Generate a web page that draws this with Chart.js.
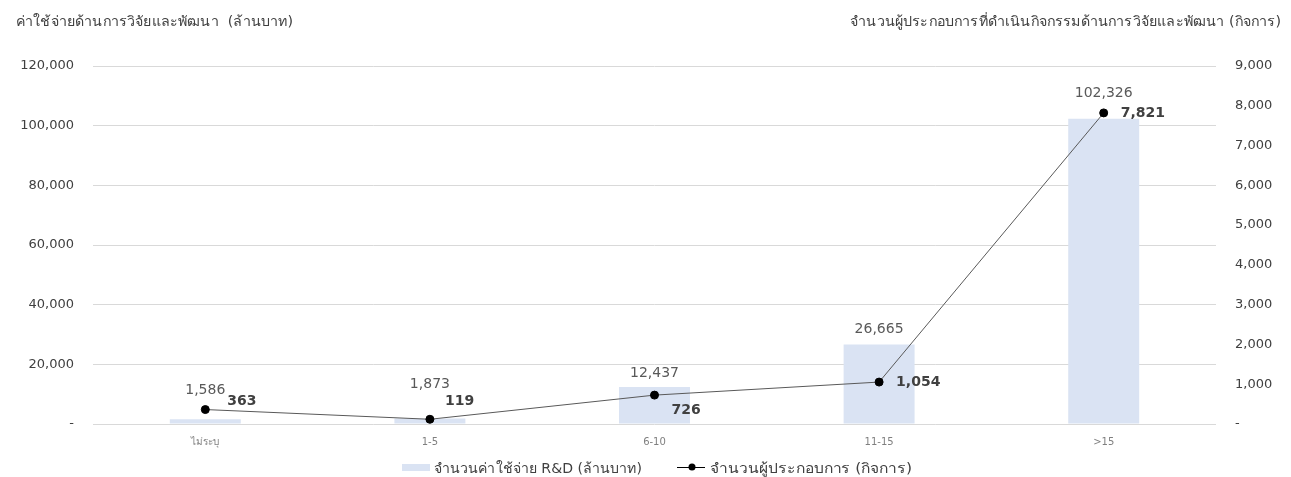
<!DOCTYPE html>
<html>
<head>
<meta charset="utf-8">
<script src="https://cdn.jsdelivr.net/npm/chart.js@4/dist/chart.umd.min.js"></script>
<style>
  html, body { margin: 0; padding: 0; background: #fff; }
  #wrap { position: relative; width: 1291px; height: 477px; }
</style>
</head>
<body>
<div id="wrap"><canvas id="c" width="1291" height="477"></canvas></div>
<script>
// Project-duration groups (years)
const categories = ['ไม่ระบุ', '1-5', '6-10', '11-15', '>15'];
// R&D spending (million baht)
const rdSpending = [1586, 1873, 12437, 26665, 102326];
// Number of operators doing R&D (establishments)
const operators = [363, 119, 726, 1054, 7821];
// Axis ranges and steps
const leftMax = 120000, leftStep = 20000;
const rightMax = 9000, rightStep = 1000;

const seriesNames = ['จำนวนค่าใช้จ่าย R&D (ล้านบาท)', 'จำนวนผู้ประกอบการ (กิจการ)'];
const leftTitle = 'ค่าใช้จ่ายด้านการวิจัยและพัฒนา  (ล้านบาท)';
const rightTitle = 'จำนวนผู้ประกอบการที่ดำเนินกิจกรรมด้านการวิจัยและพัฒนา (กิจการ)';

// label placement tweaks (pixels) so value labels don't collide
const barLabelLift = [29, 34, 14, 15, 25];
const lineLabelDx = [22, 15, 17, 17, 17];
const lineLabelDy = [-8, -18, 15, 0, 0];

const FONT = '"DejaVu Sans", Tahoma, sans-serif';
const fmt = v => v === 0 ? '-' : Number(v).toLocaleString('en-US');

// draw text stretched horizontally to a given width, keeping its height
function fitText(ctx, text, x, y, width, align) {
  const w = ctx.measureText(text).width;
  const sx = width / w;
  ctx.save();
  ctx.textAlign = 'left';
  const left = align === 'right' ? x - width : x;
  ctx.translate(left, y);
  ctx.scale(sx, 1);
  ctx.fillText(text, 0, 0);
  ctx.restore();
}

const decor = {
  id: 'decor',
  afterDatasetsDraw(chart) {
    const ctx = chart.ctx;
    ctx.save();
    // bar value labels
    const bars = chart.getDatasetMeta(0).data;
    ctx.font = '14px ' + FONT;
    ctx.fillStyle = '#595959';
    ctx.textAlign = 'center';
    ctx.textBaseline = 'middle';
    bars.forEach((b, i) => {
      ctx.fillText(fmt(rdSpending[i]), b.x, b.y - barLabelLift[i]);
    });
    // line value labels
    const pts = chart.getDatasetMeta(1).data;
    ctx.font = 'bold 14px ' + FONT;
    ctx.fillStyle = '#404040';
    ctx.textAlign = 'left';
    pts.forEach((p, i) => {
      ctx.fillText(fmt(operators[i]), p.x + lineLabelDx[i], p.y + lineLabelDy[i]);
    });
    ctx.restore();
  },
  afterDraw(chart) {
    const ctx = chart.ctx;
    const area = chart.chartArea;
    ctx.save();
    ctx.textBaseline = 'middle';

    // value-axis tick labels
    ctx.font = '13px ' + FONT;
    ctx.fillStyle = '#404040';
    const yl = chart.scales.y, yr = chart.scales.y1;
    ctx.textAlign = 'right';
    for (let v = 0; v <= leftMax; v += leftStep) {
      ctx.fillText(fmt(v), area.left - 19, yl.getPixelForValue(v));
    }
    ctx.textAlign = 'left';
    for (let v = 0; v <= rightMax; v += rightStep) {
      ctx.fillText(fmt(v), area.right + 19, yr.getPixelForValue(v));
    }

    // axis titles
    ctx.font = '14px ' + FONT;
    ctx.fillStyle = '#404040';
    fitText(ctx, leftTitle, 16, 22, 277, 'left');
    fitText(ctx, rightTitle, 1281, 22, 431, 'right');

    // legend
    const ly = 469;
    ctx.font = '14px ' + FONT;
    ctx.fillStyle = '#DAE3F3';
    ctx.fillRect(402, ly - 5, 28, 7);
    ctx.fillStyle = '#404040';
    fitText(ctx, seriesNames[0], 434, ly, 208, 'left');
    ctx.strokeStyle = '#000';
    ctx.lineWidth = 1;
    ctx.beginPath();
    ctx.moveTo(677, ly - 1.5);
    ctx.lineTo(705, ly - 1.5);
    ctx.stroke();
    ctx.fillStyle = '#000';
    ctx.beginPath();
    ctx.arc(692, ly - 2, 3.5, 0, Math.PI * 2);
    ctx.fill();
    ctx.fillStyle = '#404040';
    fitText(ctx, seriesNames[1], 710, ly, 202, 'left');
    ctx.restore();
  }
};

new Chart(document.getElementById('c'), {
  data: {
    labels: categories,
    datasets: [
      {
        type: 'bar',
        label: seriesNames[0],
        data: rdSpending,
        backgroundColor: '#DAE3F3',
        yAxisID: 'y',
        barPercentage: 0.316,
        categoryPercentage: 1,
        order: 2
      },
      {
        type: 'line',
        label: seriesNames[1],
        data: operators,
        borderColor: '#595959',
        borderWidth: 1,
        pointBackgroundColor: '#000',
        pointBorderColor: '#000',
        pointRadius: 4,
        tension: 0,
        yAxisID: 'y1',
        order: 1
      }
    ]
  },
  options: {
    responsive: false,
    animation: false,
    layout: { padding: { top: 66, bottom: 0, left: 0, right: 0 } },
    plugins: { legend: { display: false }, tooltip: { enabled: false } },
    scales: {
      x: {
        grid: { display: false },
        border: { display: false },
        ticks: { color: '#7f7f7f', font: { family: FONT, size: 10 }, padding: 4 },
        afterFit(s) { s.height = 53; }
      },
      y: {
        position: 'left',
        min: 0, max: leftMax,
        grid: { color: '#D9D9D9', drawTicks: false },
        border: { display: false },
        ticks: { stepSize: leftStep, display: false },
        afterFit(s) { s.width = 93; }
      },
      y1: {
        position: 'right',
        min: 0, max: rightMax,
        grid: { display: false, drawTicks: false },
        border: { display: false },
        ticks: { stepSize: rightStep, display: false },
        afterFit(s) { s.width = 75; }
      }
    }
  },
  plugins: [decor]
});
</script>
</body>
</html>
